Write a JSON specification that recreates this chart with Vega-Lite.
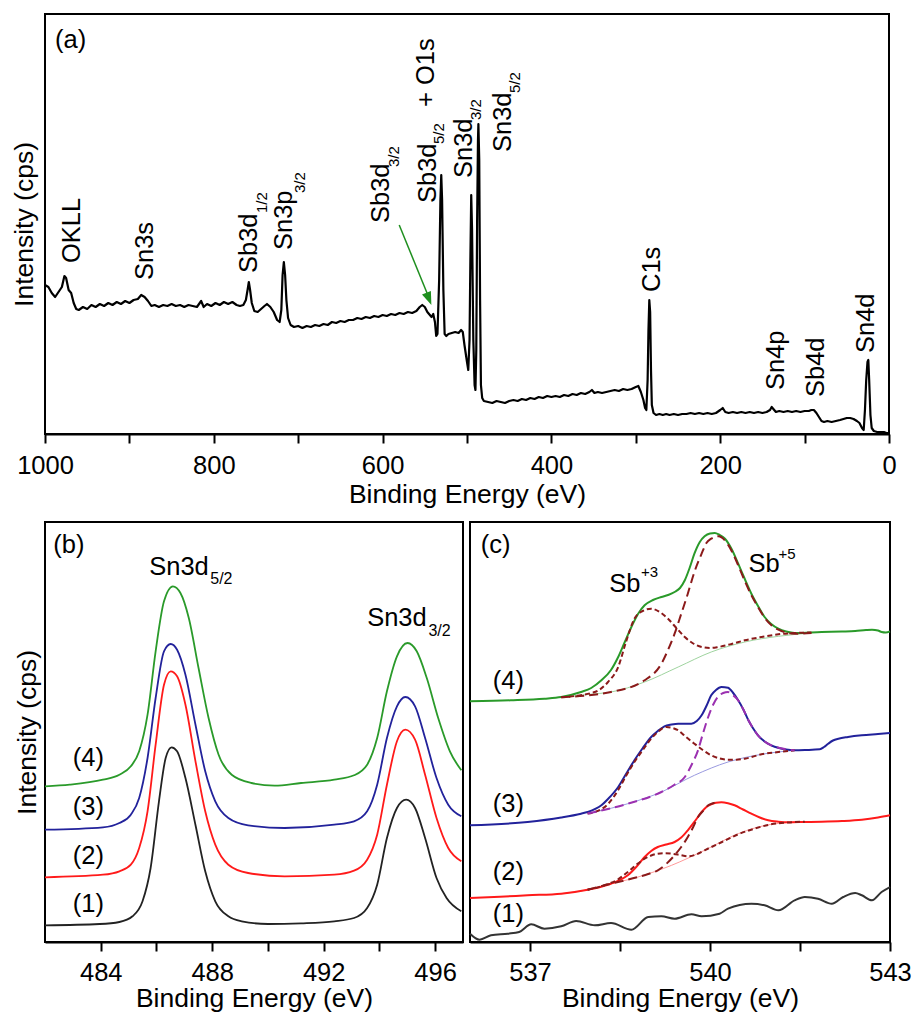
{
  "$schema": "https://vega.github.io/schema/vega-lite/v6.json",
  "background": "white",
  "padding": {"left": 10, "top": 13, "right": 5, "bottom": 0},
  "spacing": 12,
  "config": {
    "view": {"stroke": "black", "strokeWidth": 2},
    "font": "Liberation Sans",
    "axis": {"grid": false, "domainColor": "black", "domainWidth": 2, "tickColor": "black", "tickWidth": 2, "tickSize": 9, "labelFontSize": 25.5, "labelColor": "black", "labelFont": "Liberation Sans", "titleFont": "Liberation Sans", "titleFontSize": 26.5, "titleFontWeight": "normal", "titleColor": "black", "labelFlush": false, "labelOverlap": false},
    "text": {"font": "Liberation Sans", "color": "black"}
  },
  "datasets": {
    "survey": [
      {"E":1000,"I":149},{"E":996,"I":147},{"E":992,"I":141},{"E":988,"I":137},{"E":984,"I":142},{"E":980,"I":147},{"E":977,"I":158},{"E":975,"I":156},{"E":972,"I":144},{"E":969,"I":141},{"E":966,"I":131},{"E":963,"I":125},{"E":960,"I":124},{"E":955,"I":127},{"E":950,"I":125},{"E":945,"I":129},{"E":940,"I":127},{"E":935,"I":130},{"E":930,"I":128},{"E":925,"I":131},{"E":920,"I":129},{"E":915,"I":132},{"E":910,"I":130},{"E":905,"I":133},{"E":900,"I":131},{"E":895,"I":134},{"E":890,"I":135},{"E":886,"I":139},{"E":882,"I":137},{"E":878,"I":133},{"E":874,"I":128},{"E":870,"I":129},{"E":865,"I":127},{"E":860,"I":129},{"E":855,"I":128},{"E":850,"I":130},{"E":845,"I":128},{"E":840,"I":129},{"E":835,"I":127},{"E":830,"I":129},{"E":825,"I":128},{"E":820,"I":127},{"E":815,"I":133},{"E":812,"I":127},{"E":808,"I":130},{"E":803,"I":128},{"E":798,"I":131},{"E":793,"I":129},{"E":788,"I":132},{"E":783,"I":130},{"E":778,"I":132},{"E":773,"I":129},{"E":769,"I":128},{"E":765,"I":129},{"E":762,"I":134},{"E":760,"I":144},{"E":758.5,"I":152},{"E":757,"I":144},{"E":755,"I":131},{"E":752,"I":123},{"E":748,"I":122},{"E":744,"I":125},{"E":740,"I":128},{"E":737,"I":130},{"E":733,"I":127},{"E":729,"I":122},{"E":725,"I":114},{"E":722,"I":112},{"E":720,"I":124},{"E":718.5,"I":159},{"E":717,"I":172},{"E":715.5,"I":159},{"E":714,"I":134},{"E":712,"I":116},{"E":709,"I":109},{"E":705,"I":107},{"E":700,"I":108},{"E":695,"I":106},{"E":690,"I":108},{"E":685,"I":107},{"E":680,"I":109},{"E":675,"I":108},{"E":670,"I":110},{"E":665,"I":109},{"E":660,"I":112},{"E":655,"I":111},{"E":650,"I":113},{"E":645,"I":112},{"E":640,"I":114},{"E":635,"I":114},{"E":630,"I":116},{"E":625,"I":115},{"E":620,"I":117},{"E":615,"I":116},{"E":610,"I":118},{"E":605,"I":117},{"E":600,"I":119},{"E":595,"I":118},{"E":590,"I":120},{"E":585,"I":119},{"E":580,"I":121},{"E":575,"I":120},{"E":570,"I":122},{"E":565,"I":121},{"E":560,"I":123},{"E":556,"I":127},{"E":553,"I":129},{"E":550,"I":127},{"E":547,"I":122},{"E":544,"I":119},{"E":542,"I":117},{"E":540,"I":120},{"E":538,"I":112},{"E":536.5,"I":98},{"E":535,"I":100},{"E":533,"I":154},{"E":531.5,"I":234},{"E":530.5,"I":259},{"E":529.5,"I":234},{"E":528,"I":144},{"E":526.5,"I":100},{"E":524.5,"I":98},{"E":522,"I":100},{"E":518,"I":101},{"E":514,"I":102},{"E":510,"I":101},{"E":507,"I":104},{"E":505,"I":102},{"E":503,"I":89},{"E":500,"I":72},{"E":498.5,"I":64},{"E":497,"I":94},{"E":496,"I":174},{"E":495,"I":239},{"E":494,"I":204},{"E":492.5,"I":94},{"E":491,"I":49},{"E":490,"I":44},{"E":489,"I":84},{"E":488,"I":214},{"E":487,"I":294},{"E":486.5,"I":310},{"E":485.5,"I":274},{"E":484.5,"I":134},{"E":483.5,"I":49},{"E":482,"I":36},{"E":480,"I":33},{"E":475,"I":32},{"E":470,"I":31},{"E":465,"I":33},{"E":460,"I":32},{"E":455,"I":31},{"E":450,"I":33},{"E":445,"I":34},{"E":440,"I":33},{"E":435,"I":35},{"E":430,"I":34},{"E":425,"I":36},{"E":420,"I":35},{"E":415,"I":37},{"E":410,"I":36},{"E":405,"I":38},{"E":400,"I":37},{"E":395,"I":38},{"E":390,"I":37},{"E":385,"I":39},{"E":380,"I":38},{"E":375,"I":40},{"E":370,"I":39},{"E":365,"I":41},{"E":360,"I":40},{"E":355,"I":42},{"E":352,"I":44},{"E":349,"I":41},{"E":345,"I":42},{"E":340,"I":41},{"E":335,"I":42},{"E":330,"I":43},{"E":325,"I":44},{"E":320,"I":43},{"E":315,"I":45},{"E":310,"I":44},{"E":305,"I":45},{"E":300,"I":47},{"E":297,"I":48},{"E":294,"I":42},{"E":291,"I":34},{"E":289,"I":26},{"E":287.5,"I":24},{"E":286,"I":54},{"E":285,"I":104},{"E":284,"I":134},{"E":283,"I":122},{"E":282,"I":64},{"E":281,"I":29},{"E":279,"I":21},{"E":276,"I":19},{"E":272,"I":20},{"E":268,"I":19},{"E":264,"I":20},{"E":260,"I":19},{"E":255,"I":20},{"E":250,"I":19},{"E":245,"I":20},{"E":240,"I":20},{"E":235,"I":21},{"E":230,"I":20},{"E":225,"I":21},{"E":220,"I":20},{"E":215,"I":21},{"E":210,"I":20},{"E":205,"I":21},{"E":200,"I":24},{"E":197,"I":26},{"E":194,"I":22},{"E":190,"I":21},{"E":185,"I":22},{"E":180,"I":21},{"E":175,"I":22},{"E":170,"I":21},{"E":165,"I":22},{"E":160,"I":21},{"E":155,"I":22},{"E":150,"I":21},{"E":145,"I":22},{"E":141,"I":24},{"E":139,"I":27},{"E":137,"I":25},{"E":134,"I":22},{"E":130,"I":23},{"E":125,"I":22},{"E":120,"I":23},{"E":115,"I":22},{"E":110,"I":23},{"E":105,"I":22},{"E":100,"I":23},{"E":95,"I":23},{"E":92,"I":24},{"E":89,"I":24},{"E":86,"I":21},{"E":83,"I":17},{"E":80,"I":13},{"E":77,"I":12},{"E":73,"I":13},{"E":68,"I":12},{"E":63,"I":13},{"E":58,"I":14},{"E":54,"I":15},{"E":50,"I":16},{"E":46,"I":16},{"E":42,"I":15},{"E":38,"I":13},{"E":35,"I":11},{"E":32,"I":6},{"E":30,"I":4},{"E":28.5,"I":24},{"E":27,"I":54},{"E":25.5,"I":72},{"E":24.5,"I":74},{"E":23.5,"I":54},{"E":22,"I":19},{"E":20.5,"I":6},{"E":18,"I":3},{"E":14,"I":2},{"E":10,"I":2},{"E":6,"I":2},{"E":3,"I":1},{"E":1,"I":1},{"E":0,"I":0}
    ],
    "survey_labels": [
      {"E":958.4,"I":171,"text":"OKLL"},{"E":871.6,"I":154,"text":"Sn3s"},{"E":749.1,"I":161,"text":"Sb3d"},{"E":707.5,"I":184,"text":"Sn3p"},{"E":592.2,"I":211,"text":"Sb3d"},{"E":536.3,"I":231,"text":"Sb3d"},{"E":538.6,"I":327,"text":"+ O1s"},{"E":494.6,"I":256,"text":"Sn3d"},{"E":448.3,"I":282,"text":"Sn3d"},{"E":271.1,"I":142,"text":"C1s"},{"E":124.9,"I":44,"text":"Sn4p"},{"E":77.3,"I":37,"text":"Sb4d"},{"E":17.8,"I":81,"text":"Sn4d"}
    ],
    "survey_subs": [
      {"E":737.2,"I":221,"text":"1/2"},{"E":692,"I":241,"text":"3/2"},{"E":580.3,"I":267,"text":"3/2"},{"E":526.8,"I":290,"text":"5/2"},{"E":483.9,"I":314,"text":"3/2"},{"E":437.6,"I":341,"text":"5/2"}
    ],
    "arrow": [{"E":580.3,"I":209},{"E":543.5,"I":133}],
    "arrowhead": [{"E":542.2,"I":129}],
    "panel_a": [{"E":988.1,"I":386,"text":"(a)"}],
    "sn": [
      {"E":482,"I":16.7,"s":"1"},{"E":483.96,"I":18,"s":"1"},{"E":484.67,"I":20,"s":"1"},{"E":485.14,"I":25.7,"s":"1"},{"E":485.5,"I":40.7,"s":"1"},{"E":485.79,"I":74,"s":"1"},{"E":486.09,"I":140.7,"s":"1"},{"E":486.33,"I":184,"s":"1"},{"E":486.54,"I":194.7,"s":"1"},{"E":486.74,"I":190.7,"s":"1"},{"E":487.04,"I":164,"s":"1"},{"E":487.4,"I":117,"s":"1"},{"E":487.75,"I":70.7,"s":"1"},{"E":488.11,"I":40.7,"s":"1"},{"E":488.58,"I":25.7,"s":"1"},{"E":489.06,"I":20.7,"s":"1"},{"E":490.0,"I":18,"s":"1"},{"E":491.19,"I":18.7,"s":"1"},{"E":492.38,"I":20.7,"s":"1"},{"E":493.09,"I":24,"s":"1"},{"E":493.56,"I":34,"s":"1"},{"E":493.92,"I":57.3,"s":"1"},{"E":494.27,"I":104,"s":"1"},{"E":494.63,"I":134,"s":"1"},{"E":494.96,"I":142.3,"s":"1"},{"E":495.28,"I":134,"s":"1"},{"E":495.64,"I":104,"s":"1"},{"E":496.05,"I":64,"s":"1"},{"E":496.41,"I":44,"s":"1"},{"E":496.94,"I":30.7,"s":"1"},
      {"E":482,"I":64.7,"s":"2"},{"E":484.08,"I":67.3,"s":"2"},{"E":484.67,"I":70.7,"s":"2"},{"E":485.08,"I":77.3,"s":"2"},{"E":485.38,"I":94,"s":"2"},{"E":485.68,"I":130.7,"s":"2"},{"E":485.97,"I":197.3,"s":"2"},{"E":486.27,"I":257.3,"s":"2"},{"E":486.51,"I":270.7,"s":"2"},{"E":486.74,"I":265.7,"s":"2"},{"E":487.04,"I":237.3,"s":"2"},{"E":487.4,"I":180.7,"s":"2"},{"E":487.75,"I":130.7,"s":"2"},{"E":488.11,"I":97.3,"s":"2"},{"E":488.58,"I":77.3,"s":"2"},{"E":489.29,"I":69,"s":"2"},{"E":490.6,"I":65.7,"s":"2"},{"E":492.38,"I":67.3,"s":"2"},{"E":493.09,"I":71.3,"s":"2"},{"E":493.56,"I":82.3,"s":"2"},{"E":493.92,"I":107.3,"s":"2"},{"E":494.27,"I":157.3,"s":"2"},{"E":494.63,"I":200.7,"s":"2"},{"E":494.93,"I":212.3,"s":"2"},{"E":495.28,"I":202.3,"s":"2"},{"E":495.64,"I":167.3,"s":"2"},{"E":496.05,"I":124,"s":"2"},{"E":496.47,"I":94,"s":"2"},{"E":496.94,"I":80.7,"s":"2"},
      {"E":482,"I":112.3,"s":"3"},{"E":484.08,"I":114.7,"s":"3"},{"E":484.67,"I":119,"s":"3"},{"E":485.08,"I":127.3,"s":"3"},{"E":485.38,"I":144,"s":"3"},{"E":485.68,"I":184,"s":"3"},{"E":485.97,"I":244,"s":"3"},{"E":486.27,"I":290.7,"s":"3"},{"E":486.51,"I":298,"s":"3"},{"E":486.74,"I":292.3,"s":"3"},{"E":487.04,"I":267.3,"s":"3"},{"E":487.4,"I":217.3,"s":"3"},{"E":487.75,"I":170.7,"s":"3"},{"E":488.11,"I":140.7,"s":"3"},{"E":488.58,"I":124,"s":"3"},{"E":489.29,"I":116.7,"s":"3"},{"E":490.6,"I":114,"s":"3"},{"E":492.38,"I":117.3,"s":"3"},{"E":493.09,"I":120.7,"s":"3"},{"E":493.56,"I":130.7,"s":"3"},{"E":493.92,"I":157.3,"s":"3"},{"E":494.27,"I":204,"s":"3"},{"E":494.63,"I":235.7,"s":"3"},{"E":494.93,"I":245,"s":"3"},{"E":495.28,"I":235.7,"s":"3"},{"E":495.64,"I":204,"s":"3"},{"E":496.05,"I":164,"s":"3"},{"E":496.47,"I":137.3,"s":"3"},{"E":496.94,"I":125.7,"s":"3"},
      {"E":482,"I":155.7,"s":"4"},{"E":482.89,"I":157.3,"s":"4"},{"E":484.08,"I":162.3,"s":"4"},{"E":484.67,"I":167.3,"s":"4"},{"E":485.08,"I":175.7,"s":"4"},{"E":485.38,"I":190.7,"s":"4"},{"E":485.68,"I":227.3,"s":"4"},{"E":485.97,"I":290.7,"s":"4"},{"E":486.27,"I":340.7,"s":"4"},{"E":486.59,"I":355.7,"s":"4"},{"E":486.86,"I":349,"s":"4"},{"E":487.16,"I":324,"s":"4"},{"E":487.51,"I":274,"s":"4"},{"E":487.87,"I":224,"s":"4"},{"E":488.23,"I":187.3,"s":"4"},{"E":488.7,"I":167.3,"s":"4"},{"E":489.41,"I":159,"s":"4"},{"E":490.24,"I":156.3,"s":"4"},{"E":491.19,"I":159,"s":"4"},{"E":492.38,"I":162.3,"s":"4"},{"E":493.09,"I":166.7,"s":"4"},{"E":493.56,"I":177.3,"s":"4"},{"E":493.92,"I":204,"s":"4"},{"E":494.27,"I":250.7,"s":"4"},{"E":494.63,"I":285.7,"s":"4"},{"E":495.01,"I":299,"s":"4"},{"E":495.34,"I":290.7,"s":"4"},{"E":495.7,"I":264,"s":"4"},{"E":496.11,"I":224,"s":"4"},{"E":496.53,"I":190.7,"s":"4"},{"E":496.94,"I":171.7,"s":"4"}
    ],
    "sn_labels": [
      {"E":482.3,"I":389,"text":"(b)"},{"E":485.74,"I":367,"text":"Sn3d"},{"E":493.56,"I":316,"text":"Sn3d"},{"E":483.0,"I":176,"text":"(4)"},{"E":483.0,"I":127,"text":"(3)"},{"E":483.0,"I":78,"text":"(2)"},{"E":483.0,"I":30,"text":"(1)"}
    ],
    "sn_subs": [{"E":487.93,"I":358,"text":"5/2"},{"E":495.76,"I":306,"text":"3/2"}],
    "sb": [
      {"E":536,"I":8.3,"s":"1","c":"main"},{"E":536.16,"I":2.3,"s":"1","c":"main"},{"E":536.35,"I":6.7,"s":"1","c":"main"},{"E":536.63,"I":8.3,"s":"1","c":"main"},{"E":536.82,"I":10,"s":"1","c":"main"},{"E":537.02,"I":17.7,"s":"1","c":"main"},{"E":537.24,"I":13.3,"s":"1","c":"main"},{"E":537.52,"I":15.7,"s":"1","c":"main"},{"E":537.77,"I":21,"s":"1","c":"main"},{"E":538.08,"I":16.7,"s":"1","c":"main"},{"E":538.35,"I":19,"s":"1","c":"main"},{"E":538.69,"I":12.3,"s":"1","c":"main"},{"E":538.97,"I":25,"s":"1","c":"main"},{"E":539.19,"I":25.7,"s":"1","c":"main"},{"E":539.41,"I":23.3,"s":"1","c":"main"},{"E":539.69,"I":27.7,"s":"1","c":"main"},{"E":539.86,"I":25.7,"s":"1","c":"main"},{"E":540.16,"I":28.3,"s":"1","c":"main"},{"E":540.3,"I":33.3,"s":"1","c":"main"},{"E":540.69,"I":38.3,"s":"1","c":"main"},{"E":540.91,"I":36.7,"s":"1","c":"main"},{"E":541.14,"I":31.7,"s":"1","c":"main"},{"E":541.41,"I":41.7,"s":"1","c":"main"},{"E":541.58,"I":45,"s":"1","c":"main"},{"E":541.8,"I":43.3,"s":"1","c":"main"},{"E":542.03,"I":38.3,"s":"1","c":"main"},{"E":542.22,"I":45,"s":"1","c":"main"},{"E":542.42,"I":49,"s":"1","c":"main"},{"E":542.53,"I":46.7,"s":"1","c":"main"},{"E":542.7,"I":41.7,"s":"1","c":"main"},{"E":542.86,"I":50,"s":"1","c":"main"},{"E":543,"I":55,"s":"1","c":"main"},
      {"E":536,"I":44,"s":"2","c":"main"},{"E":536.5,"I":45.3,"s":"2","c":"main"},{"E":536.96,"I":46.7,"s":"2","c":"main"},{"E":537.52,"I":48.3,"s":"2","c":"main"},{"E":537.96,"I":52.3,"s":"2","c":"main"},{"E":538.2,"I":55.5,"s":"2","c":"main"},{"E":538.35,"I":58.3,"s":"2","c":"main"},{"E":538.5,"I":62,"s":"2","c":"main"},{"E":538.63,"I":66.7,"s":"2","c":"main"},{"E":538.77,"I":75,"s":"2","c":"main"},{"E":538.91,"I":85,"s":"2","c":"main"},{"E":539.02,"I":91,"s":"2","c":"main"},{"E":539.13,"I":95,"s":"2","c":"main"},{"E":539.27,"I":97.5,"s":"2","c":"main"},{"E":539.41,"I":100,"s":"2","c":"main"},{"E":539.52,"I":104.5,"s":"2","c":"main"},{"E":539.63,"I":111.7,"s":"2","c":"main"},{"E":539.75,"I":121,"s":"2","c":"main"},{"E":539.86,"I":130,"s":"2","c":"main"},{"E":539.94,"I":135,"s":"2","c":"main"},{"E":540.02,"I":137.7,"s":"2","c":"main"},{"E":540.1,"I":139.3,"s":"2","c":"main"},{"E":540.19,"I":139.7,"s":"2","c":"main"},{"E":540.3,"I":138.7,"s":"2","c":"main"},{"E":540.41,"I":136.7,"s":"2","c":"main"},{"E":540.55,"I":132.5,"s":"2","c":"main"},{"E":540.69,"I":128.3,"s":"2","c":"main"},{"E":540.83,"I":124.5,"s":"2","c":"main"},{"E":540.97,"I":121.7,"s":"2","c":"main"},{"E":541.14,"I":120.3,"s":"2","c":"main"},{"E":541.3,"I":119.7,"s":"2","c":"main"},{"E":541.58,"I":120,"s":"2","c":"main"},{"E":541.86,"I":120.3,"s":"2","c":"main"},{"E":542.2,"I":121,"s":"2","c":"main"},{"E":542.53,"I":122.3,"s":"2","c":"main"},{"E":542.8,"I":124.5,"s":"2","c":"main"},{"E":543,"I":126.7,"s":"2","c":"main"},
      {"E":537.52,"I":48.3,"s":"2","c":"bg"},{"E":537.96,"I":52.3,"s":"2","c":"bg"},{"E":538.24,"I":56.7,"s":"2","c":"bg"},{"E":538.8,"I":65,"s":"2","c":"bg"},{"E":539.36,"I":76.7,"s":"2","c":"bg"},{"E":539.91,"I":91.7,"s":"2","c":"bg"},{"E":540.47,"I":108.3,"s":"2","c":"bg"},{"E":541.02,"I":117.7,"s":"2","c":"bg"},{"E":541.58,"I":120.3,"s":"2","c":"bg"},
      {"E":537.96,"I":52.3,"s":"2","c":"sb3"},{"E":538.24,"I":56.7,"s":"2","c":"sb3"},{"E":538.45,"I":62,"s":"2","c":"sb3"},{"E":538.63,"I":70,"s":"2","c":"sb3"},{"E":538.77,"I":77,"s":"2","c":"sb3"},{"E":538.91,"I":83.3,"s":"2","c":"sb3"},{"E":539.02,"I":86.5,"s":"2","c":"sb3"},{"E":539.13,"I":88.3,"s":"2","c":"sb3"},{"E":539.25,"I":88.8,"s":"2","c":"sb3"},{"E":539.36,"I":88.3,"s":"2","c":"sb3"},{"E":539.5,"I":87,"s":"2","c":"sb3"},{"E":539.63,"I":85.7,"s":"2","c":"sb3"},{"E":539.77,"I":87.5,"s":"2","c":"sb3"},{"E":539.91,"I":91.7,"s":"2","c":"sb3"},{"E":540.2,"I":100,"s":"2","c":"sb3"},{"E":540.47,"I":107.7,"s":"2","c":"sb3"},{"E":540.75,"I":113.5,"s":"2","c":"sb3"},{"E":541.02,"I":117.7,"s":"2","c":"sb3"},{"E":541.3,"I":119.5,"s":"2","c":"sb3"},{"E":541.58,"I":120.3,"s":"2","c":"sb3"},
      {"E":537.96,"I":52.3,"s":"2","c":"sb5"},{"E":538.24,"I":56.7,"s":"2","c":"sb5"},{"E":538.8,"I":65,"s":"2","c":"sb5"},{"E":538.97,"I":68,"s":"2","c":"sb5"},{"E":539.13,"I":71.7,"s":"2","c":"sb5"},{"E":539.27,"I":78,"s":"2","c":"sb5"},{"E":539.41,"I":86.7,"s":"2","c":"sb5"},{"E":539.52,"I":95,"s":"2","c":"sb5"},{"E":539.63,"I":105,"s":"2","c":"sb5"},{"E":539.72,"I":115,"s":"2","c":"sb5"},{"E":539.8,"I":125,"s":"2","c":"sb5"},{"E":539.9,"I":132,"s":"2","c":"sb5"},{"E":539.97,"I":136.7,"s":"2","c":"sb5"},{"E":540.05,"I":138.8,"s":"2","c":"sb5"},{"E":540.13,"I":139.7,"s":"2","c":"sb5"},
      {"E":536,"I":116.7,"s":"3","c":"main"},{"E":536.96,"I":120,"s":"3","c":"main"},{"E":537.52,"I":124.5,"s":"3","c":"main"},{"E":537.85,"I":128.3,"s":"3","c":"main"},{"E":537.96,"I":130,"s":"3","c":"main"},{"E":538.19,"I":136.7,"s":"3","c":"main"},{"E":538.3,"I":143,"s":"3","c":"main"},{"E":538.47,"I":155,"s":"3","c":"main"},{"E":538.6,"I":168,"s":"3","c":"main"},{"E":538.74,"I":181.7,"s":"3","c":"main"},{"E":538.88,"I":194,"s":"3","c":"main"},{"E":539.02,"I":205,"s":"3","c":"main"},{"E":539.13,"I":211,"s":"3","c":"main"},{"E":539.24,"I":215.7,"s":"3","c":"main"},{"E":539.36,"I":217.5,"s":"3","c":"main"},{"E":539.47,"I":218.3,"s":"3","c":"main"},{"E":539.58,"I":218.3,"s":"3","c":"main"},{"E":539.69,"I":218.3,"s":"3","c":"main"},{"E":539.78,"I":221,"s":"3","c":"main"},{"E":539.86,"I":226.7,"s":"3","c":"main"},{"E":539.94,"I":236,"s":"3","c":"main"},{"E":540.02,"I":246.7,"s":"3","c":"main"},{"E":540.1,"I":252,"s":"3","c":"main"},{"E":540.19,"I":255,"s":"3","c":"main"},{"E":540.3,"I":254.3,"s":"3","c":"main"},{"E":540.38,"I":249.5,"s":"3","c":"main"},{"E":540.47,"I":241.7,"s":"3","c":"main"},{"E":540.56,"I":232,"s":"3","c":"main"},{"E":540.64,"I":221.7,"s":"3","c":"main"},{"E":540.72,"I":213.5,"s":"3","c":"main"},{"E":540.8,"I":206.7,"s":"3","c":"main"},{"E":540.91,"I":200.5,"s":"3","c":"main"},{"E":541.02,"I":196.7,"s":"3","c":"main"},{"E":541.15,"I":194,"s":"3","c":"main"},{"E":541.3,"I":192.3,"s":"3","c":"main"},{"E":541.41,"I":191.7,"s":"3","c":"main"},{"E":541.6,"I":192,"s":"3","c":"main"},{"E":541.83,"I":192.7,"s":"3","c":"main"},{"E":541.9,"I":195,"s":"3","c":"main"},{"E":541.97,"I":198.3,"s":"3","c":"main"},{"E":542.05,"I":201.5,"s":"3","c":"main"},{"E":542.14,"I":203.3,"s":"3","c":"main"},{"E":542.3,"I":205,"s":"3","c":"main"},{"E":542.53,"I":206.7,"s":"3","c":"main"},{"E":542.8,"I":208,"s":"3","c":"main"},{"E":543,"I":209,"s":"3","c":"main"},
      {"E":537.96,"I":128.5,"s":"3","c":"bg"},{"E":538.08,"I":130,"s":"3","c":"bg"},{"E":538.63,"I":138.3,"s":"3","c":"bg"},{"E":539.19,"I":150,"s":"3","c":"bg"},{"E":539.74,"I":166.7,"s":"3","c":"bg"},{"E":540.3,"I":180,"s":"3","c":"bg"},{"E":540.86,"I":187.7,"s":"3","c":"bg"},{"E":541.41,"I":191.7,"s":"3","c":"bg"},
      {"E":537.96,"I":128.5,"s":"3","c":"sb3"},{"E":538.08,"I":130,"s":"3","c":"sb3"},{"E":538.3,"I":138,"s":"3","c":"sb3"},{"E":538.47,"I":152,"s":"3","c":"sb3"},{"E":538.6,"I":166,"s":"3","c":"sb3"},{"E":538.74,"I":180,"s":"3","c":"sb3"},{"E":538.88,"I":192,"s":"3","c":"sb3"},{"E":539.02,"I":203.3,"s":"3","c":"sb3"},{"E":539.15,"I":211,"s":"3","c":"sb3"},{"E":539.27,"I":215,"s":"3","c":"sb3"},{"E":539.38,"I":214,"s":"3","c":"sb3"},{"E":539.47,"I":211.7,"s":"3","c":"sb3"},{"E":539.6,"I":205,"s":"3","c":"sb3"},{"E":539.74,"I":198.3,"s":"3","c":"sb3"},{"E":539.88,"I":192,"s":"3","c":"sb3"},{"E":540.02,"I":186.7,"s":"3","c":"sb3"},{"E":540.16,"I":183.5,"s":"3","c":"sb3"},{"E":540.3,"I":182.3,"s":"3","c":"sb3"},{"E":540.44,"I":182.3,"s":"3","c":"sb3"},{"E":540.58,"I":183.3,"s":"3","c":"sb3"},{"E":540.86,"I":187.7,"s":"3","c":"sb3"},{"E":541.14,"I":190,"s":"3","c":"sb3"},{"E":541.41,"I":191.7,"s":"3","c":"sb3"},
      {"E":537.96,"I":128.5,"s":"3","c":"sb5"},{"E":538.08,"I":130,"s":"3","c":"sb5"},{"E":538.63,"I":138.3,"s":"3","c":"sb5"},{"E":539.19,"I":150,"s":"3","c":"sb5"},{"E":539.4,"I":157,"s":"3","c":"sb5"},{"E":539.58,"I":165,"s":"3","c":"sb5"},{"E":539.7,"I":178,"s":"3","c":"sb5"},{"E":539.8,"I":191.7,"s":"3","c":"sb5"},{"E":539.88,"I":208,"s":"3","c":"sb5"},{"E":539.97,"I":225,"s":"3","c":"sb5"},{"E":540.05,"I":237,"s":"3","c":"sb5"},{"E":540.13,"I":245,"s":"3","c":"sb5"},{"E":540.22,"I":249,"s":"3","c":"sb5"},{"E":540.3,"I":250,"s":"3","c":"sb5"},{"E":540.38,"I":247,"s":"3","c":"sb5"},{"E":540.47,"I":241.7,"s":"3","c":"sb5"},{"E":540.56,"I":232,"s":"3","c":"sb5"},{"E":540.64,"I":221.7,"s":"3","c":"sb5"},{"E":540.72,"I":213.5,"s":"3","c":"sb5"},{"E":540.8,"I":206.7,"s":"3","c":"sb5"},{"E":540.91,"I":200.5,"s":"3","c":"sb5"},{"E":541.02,"I":196.7,"s":"3","c":"sb5"},{"E":541.2,"I":193.5,"s":"3","c":"sb5"},{"E":541.41,"I":191.7,"s":"3","c":"sb5"},
      {"E":536,"I":240.7,"s":"4","c":"main"},{"E":536.68,"I":241.7,"s":"4","c":"main"},{"E":537.24,"I":243.3,"s":"4","c":"main"},{"E":537.52,"I":245,"s":"4","c":"main"},{"E":537.85,"I":250,"s":"4","c":"main"},{"E":538.02,"I":254,"s":"4","c":"main"},{"E":538.19,"I":261.7,"s":"4","c":"main"},{"E":538.35,"I":272,"s":"4","c":"main"},{"E":538.47,"I":285,"s":"4","c":"main"},{"E":538.58,"I":300,"s":"4","c":"main"},{"E":538.69,"I":315,"s":"4","c":"main"},{"E":538.8,"I":328,"s":"4","c":"main"},{"E":538.91,"I":336.7,"s":"4","c":"main"},{"E":539.05,"I":342,"s":"4","c":"main"},{"E":539.19,"I":345,"s":"4","c":"main"},{"E":539.3,"I":347,"s":"4","c":"main"},{"E":539.41,"I":350,"s":"4","c":"main"},{"E":539.5,"I":354,"s":"4","c":"main"},{"E":539.58,"I":361.7,"s":"4","c":"main"},{"E":539.66,"I":374,"s":"4","c":"main"},{"E":539.74,"I":388.3,"s":"4","c":"main"},{"E":539.83,"I":400,"s":"4","c":"main"},{"E":539.91,"I":405.7,"s":"4","c":"main"},{"E":540.0,"I":408.5,"s":"4","c":"main"},{"E":540.08,"I":409,"s":"4","c":"main"},{"E":540.16,"I":407,"s":"4","c":"main"},{"E":540.25,"I":403.3,"s":"4","c":"main"},{"E":540.36,"I":393,"s":"4","c":"main"},{"E":540.47,"I":378.3,"s":"4","c":"main"},{"E":540.58,"I":363,"s":"4","c":"main"},{"E":540.69,"I":348.3,"s":"4","c":"main"},{"E":540.8,"I":336,"s":"4","c":"main"},{"E":540.91,"I":325,"s":"4","c":"main"},{"E":541.02,"I":318,"s":"4","c":"main"},{"E":541.14,"I":313.3,"s":"4","c":"main"},{"E":541.27,"I":310.5,"s":"4","c":"main"},{"E":541.41,"I":309,"s":"4","c":"main"},{"E":541.86,"I":310,"s":"4","c":"main"},{"E":542.2,"I":310.5,"s":"4","c":"main"},{"E":542.42,"I":311,"s":"4","c":"main"},{"E":542.6,"I":312,"s":"4","c":"main"},{"E":542.7,"I":312.3,"s":"4","c":"main"},{"E":542.8,"I":311.5,"s":"4","c":"main"},{"E":542.86,"I":310,"s":"4","c":"main"},{"E":542.93,"I":309.5,"s":"4","c":"main"},{"E":543,"I":310.7,"s":"4","c":"main"},
      {"E":537.52,"I":244.7,"s":"4","c":"bg"},{"E":537.96,"I":247.5,"s":"4","c":"bg"},{"E":538.35,"I":250,"s":"4","c":"bg"},{"E":538.91,"I":260,"s":"4","c":"bg"},{"E":539.47,"I":275,"s":"4","c":"bg"},{"E":540.02,"I":290,"s":"4","c":"bg"},{"E":540.58,"I":300,"s":"4","c":"bg"},{"E":541.14,"I":305.7,"s":"4","c":"bg"},{"E":541.69,"I":309,"s":"4","c":"bg"},
      {"E":537.52,"I":244.7,"s":"4","c":"sb3"},{"E":538.08,"I":250,"s":"4","c":"sb3"},{"E":538.3,"I":260,"s":"4","c":"sb3"},{"E":538.47,"I":275,"s":"4","c":"sb3"},{"E":538.6,"I":300,"s":"4","c":"sb3"},{"E":538.74,"I":323.3,"s":"4","c":"sb3"},{"E":538.88,"I":331,"s":"4","c":"sb3"},{"E":539.02,"I":333.3,"s":"4","c":"sb3"},{"E":539.16,"I":330,"s":"4","c":"sb3"},{"E":539.3,"I":323.3,"s":"4","c":"sb3"},{"E":539.44,"I":314,"s":"4","c":"sb3"},{"E":539.58,"I":305,"s":"4","c":"sb3"},{"E":539.72,"I":298.5,"s":"4","c":"sb3"},{"E":539.86,"I":295,"s":"4","c":"sb3"},{"E":540.0,"I":294,"s":"4","c":"sb3"},{"E":540.14,"I":295,"s":"4","c":"sb3"},{"E":540.36,"I":298,"s":"4","c":"sb3"},{"E":540.58,"I":301.7,"s":"4","c":"sb3"},{"E":540.86,"I":305,"s":"4","c":"sb3"},{"E":541.14,"I":307.7,"s":"4","c":"sb3"},{"E":541.41,"I":309,"s":"4","c":"sb3"},{"E":541.69,"I":309.5,"s":"4","c":"sb3"},
      {"E":537.52,"I":244.7,"s":"4","c":"sb5"},{"E":538.35,"I":250,"s":"4","c":"sb5"},{"E":538.91,"I":261.7,"s":"4","c":"sb5"},{"E":539.19,"I":278.3,"s":"4","c":"sb5"},{"E":539.3,"I":292,"s":"4","c":"sb5"},{"E":539.41,"I":308.3,"s":"4","c":"sb5"},{"E":539.52,"I":328,"s":"4","c":"sb5"},{"E":539.63,"I":348.3,"s":"4","c":"sb5"},{"E":539.74,"I":370,"s":"4","c":"sb5"},{"E":539.86,"I":388.3,"s":"4","c":"sb5"},{"E":539.94,"I":399,"s":"4","c":"sb5"},{"E":540.02,"I":403.3,"s":"4","c":"sb5"},{"E":540.14,"I":405.7,"s":"4","c":"sb5"},{"E":540.27,"I":400,"s":"4","c":"sb5"},{"E":540.37,"I":390,"s":"4","c":"sb5"},{"E":540.47,"I":376.7,"s":"4","c":"sb5"},{"E":540.58,"I":361,"s":"4","c":"sb5"},{"E":540.69,"I":346.7,"s":"4","c":"sb5"},{"E":540.8,"I":335,"s":"4","c":"sb5"},{"E":540.91,"I":324.3,"s":"4","c":"sb5"},{"E":541.02,"I":317,"s":"4","c":"sb5"},{"E":541.14,"I":312.3,"s":"4","c":"sb5"},{"E":541.41,"I":308.3,"s":"4","c":"sb5"},{"E":541.69,"I":309,"s":"4","c":"sb5"}
    ],
    "sb_labels": [
      {"E":536.18,"I":389,"text":"(c)"},{"E":538.32,"I":350,"text":"Sb"},{"E":540.64,"I":370,"text":"Sb"},{"E":536.38,"I":253,"text":"(4)"},{"E":536.38,"I":130,"text":"(3)"},{"E":536.38,"I":62,"text":"(2)"},{"E":536.38,"I":20,"text":"(1)"}
    ],
    "sb_sups": [{"E":538.85,"I":365,"text":"+3"},{"E":541.14,"I":383,"text":"+5"}]
  },
  "vconcat": [
    {
      "width": 844,
      "height": 420,
      "encoding": {
        "x": {"field": "E", "type": "quantitative", "scale": {"domain": [0, 1000], "reverse": true, "nice": false, "zero": false}, "axis": {"title": "Binding Energy (eV)", "values": [0,100,200,300,400,500,600,700,800,900,1000], "format": "d", "labelExpr": "datum.value % 200 == 0 ? datum.label : ''", "labelPadding": 10, "titlePadding": 3}},
        "y": {"field": "I", "type": "quantitative", "scale": {"domain": [0, 420], "nice": false, "zero": false}, "axis": {"title": "Intensity (cps)", "labels": false, "ticks": false, "domain": false, "titlePadding": 7}}
      },
      "layer": [
        {"data": {"name": "survey"}, "mark": {"type": "line", "color": "black", "strokeWidth": 2.2, "strokeJoin": "round"}},
        {"data": {"name": "arrow"}, "mark": {"type": "line", "color": "#1f8f1f", "strokeWidth": 1.5}},
        {"data": {"name": "arrowhead"}, "mark": {"type": "point", "shape": "M0,0L-0.8,-2.2L0.8,-2.2Z", "size": 144, "filled": true, "color": "#1f8f1f", "opacity": 1, "angle": 338}},
        {"data": {"name": "survey_labels"}, "mark": {"type": "text", "angle": 270, "align": "left", "baseline": "alphabetic", "fontSize": 25.5}, "encoding": {"text": {"field": "text"}}},
        {"data": {"name": "survey_subs"}, "mark": {"type": "text", "angle": 270, "align": "left", "baseline": "alphabetic", "fontSize": 15}, "encoding": {"text": {"field": "text"}}},
        {"data": {"name": "panel_a"}, "mark": {"type": "text", "align": "left", "baseline": "alphabetic", "fontSize": 25.5}, "encoding": {"text": {"field": "text"}}}
      ]
    },
    {
      "bounds": "flush",
      "spacing": 7,
      "hconcat": [
        {
          "width": 418,
          "height": 420,
          "encoding": {
            "x": {"field": "E", "type": "quantitative", "scale": {"domain": [482, 497], "nice": false, "zero": false}, "axis": {"title": "Binding Energy (eV)", "values": [484,486,488,490,492,494,496], "format": "d", "labelExpr": "datum.value % 4 == 0 ? datum.label : ''", "labelPadding": 9, "titlePadding": 0}},
            "y": {"field": "I", "type": "quantitative", "scale": {"domain": [0, 420], "nice": false, "zero": false}, "axis": {"title": "Intensity (cps)", "labels": false, "ticks": false, "domain": false, "titlePadding": 4}}
          },
          "layer": [
            {"data": {"name": "sn"}, "mark": {"type": "line", "strokeWidth": 1.8, "interpolate": "monotone"}, "encoding": {"color": {"field": "s", "type": "nominal", "scale": {"domain": ["1","2","3","4"], "range": ["#222222","#ff1a1a","#22229b","#2a9a2a"]}, "legend": null}}},
            {"data": {"name": "sn_labels"}, "mark": {"type": "text", "align": "left", "baseline": "alphabetic", "fontSize": 25.5}, "encoding": {"text": {"field": "text"}}},
            {"data": {"name": "sn_subs"}, "mark": {"type": "text", "align": "left", "baseline": "alphabetic", "fontSize": 16}, "encoding": {"text": {"field": "text"}}}
          ]
        },
        {
          "width": 420,
          "height": 420,
          "encoding": {
            "x": {"field": "E", "type": "quantitative", "scale": {"domain": [536, 543], "nice": false, "zero": false}, "axis": {"title": "Binding Energy (eV)", "values": [537,538.5,540,541.5,543], "format": "d", "labelExpr": "datum.value % 3 == 0 ? datum.label : ''", "labelPadding": 9, "titlePadding": 0}},
            "y": {"field": "I", "type": "quantitative", "scale": {"domain": [0, 420], "nice": false, "zero": false}, "axis": null}
          },
          "layer": [
            {"data": {"name": "sb"}, "transform": [{"filter": "datum.c == 'bg'"}], "mark": {"type": "line", "strokeWidth": 1, "interpolate": "monotone"}, "encoding": {"color": {"field": "s", "type": "nominal", "scale": {"domain": ["2","3","4"], "range": ["#ff9a9a","#9a9ae0","#9fd49f"]}, "legend": null}}},
            {"data": {"name": "sb"}, "transform": [{"filter": "datum.c == 'main'"}], "mark": {"type": "line", "strokeWidth": 2, "interpolate": "monotone"}, "encoding": {"color": {"field": "s", "type": "nominal", "scale": {"domain": ["1","2","3","4"], "range": ["#333333","#ff1a1a","#22229b","#2a9a2a"]}, "legend": null}}},
            {"data": {"name": "sb"}, "transform": [{"filter": "datum.c == 'sb3'"}], "mark": {"type": "line", "strokeWidth": 2, "interpolate": "monotone", "strokeDash": [5, 3], "color": "#8b1a1a"}, "encoding": {"detail": {"field": "s"}}},
            {"data": {"name": "sb"}, "transform": [{"filter": "datum.c == 'sb5'"}], "mark": {"type": "line", "strokeWidth": 2, "interpolate": "monotone", "strokeDash": [9, 5]}, "encoding": {"color": {"field": "s", "type": "nominal", "scale": {"domain": ["2","3","4"], "range": ["#8b1a1a","#9b30b0","#8b1a1a"]}, "legend": null}}},
            {"data": {"name": "sb_labels"}, "mark": {"type": "text", "align": "left", "baseline": "alphabetic", "fontSize": 25.5}, "encoding": {"text": {"field": "text"}}},
            {"data": {"name": "sb_sups"}, "mark": {"type": "text", "align": "left", "baseline": "alphabetic", "fontSize": 15}, "encoding": {"text": {"field": "text"}}}
          ],
          "resolve": {"scale": {"color": "independent"}}
        }
      ]
    }
  ]
}
